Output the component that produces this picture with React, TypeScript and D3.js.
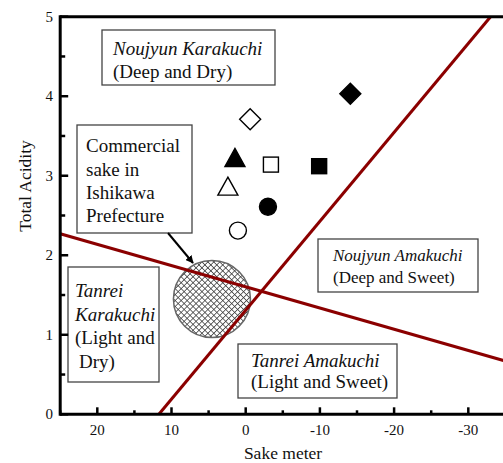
import React from "react";
import * as d3 from "d3";

// Sake meter value (SMV) and total acidity of individual sakes
const pointSmv = [-14.1, -0.6, 1.45, -3.4, -9.9, 2.4, -3.0, 1.05];
const pointAcidity = [4.03, 3.71, 3.23, 3.14, 3.12, 2.87, 2.61, 2.31];
const pointShape = ["diamond", "diamond", "triangle", "square", "square", "triangle", "circle", "circle"];
const pointFilled = [true, false, true, false, true, false, true, false];

// Boundary lines between taste classes: [smv, acidity] end points
const boundarySweetDry = [[11.7, 0], [-33, 5]];
const boundaryDeepLight = [[25, 2.27], [-35, 0.67]];

// Region of commercial sake in Ishikawa Prefecture
const ishikawaCenter = [4.55, 1.45];
const ishikawaRadiusSmv = 5.19;

const xTicks = [20, 10, 0, -10, -20, -30];
const xMinorTicks = [25, 15, 5, -5, -15, -25];
const yTicks = [0, 1, 2, 3, 4, 5];
const yMinorTicks = [0.5, 1.5, 2.5, 3.5, 4.5];

const W = 503;
const H = 463;
const x = d3.scaleLinear().domain([25, -35]).range([60.2, 505.4]);
const y = d3.scaleLinear().domain([0, 5]).range([414.3, 16.7]);

const serif = "Liberation Serif";
const red = "#8b0000";
const textStyle = { fontFamily: serif };

type Line = { text: string; italic?: boolean; dx?: number };
type Box = { x0: number; y0: number; x1: number; y1: number; tx: number; baselines: number[]; size: number; lines: Line[] };

const boxes: Box[] = [
  {
    x0: 102, y0: 30, x1: 275, y1: 85, tx: 113, baselines: [55, 78], size: 19,
    lines: [{ text: "Noujyun Karakuchi", italic: true }, { text: "(Deep and Dry)" }],
  },
  {
    x0: 77, y0: 125, x1: 192, y1: 233, tx: 86, baselines: [152, 175.5, 199, 222], size: 19,
    lines: [{ text: "Commercial" }, { text: "sake in" }, { text: "Ishikawa" }, { text: "Prefecture" }],
  },
  {
    x0: 68, y0: 267, x1: 159, y1: 382, tx: 75, baselines: [297, 320.5, 344, 368], size: 19,
    lines: [
      { text: "Tanrei", italic: true },
      { text: "Karakuchi", italic: true },
      { text: "(Light and" },
      { text: "Dry)", dx: 4 },
    ],
  },
  {
    x0: 318, y0: 239, x1: 478, y1: 292, tx: 333, baselines: [261, 283], size: 17,
    lines: [{ text: "Noujyun Amakuchi", italic: true }, { text: "(Deep and Sweet)" }],
  },
  {
    x0: 238, y0: 344, x1: 397, y1: 398, tx: 251, baselines: [367, 388], size: 19,
    lines: [{ text: "Tanrei Amakuchi", italic: true }, { text: "(Light and Sweet)" }],
  },
];

function marker(shape: string, filled: boolean, cx: number, cy: number, key: number) {
  const fill = filled ? "#000" : "#fff";
  const common = { fill, stroke: "#000", strokeWidth: 1.4 };
  if (shape === "diamond") {
    const r = 10.5;
    return <path key={key} d={`M${cx},${cy - r}L${cx + r},${cy}L${cx},${cy + r}L${cx - r},${cy}Z`} {...common} />;
  }
  if (shape === "triangle") {
    const hw = 10, hh = 9;
    return <path key={key} d={`M${cx},${cy - hh}L${cx + hw},${cy + hh}L${cx - hw},${cy + hh}Z`} {...common} />;
  }
  if (shape === "square") {
    const s = 15;
    return <rect key={key} x={cx - s / 2} y={cy - s / 2} width={s} height={s} {...common} />;
  }
  return <circle key={key} cx={cx} cy={cy} r={8.5} {...common} />;
}

export default function App() {
  const line = d3.line<number[]>().x((d) => x(d[0])).y((d) => y(d[1]));
  const circleR = Math.abs(x(ishikawaCenter[0] + ishikawaRadiusSmv) - x(ishikawaCenter[0]));
  const arrowStart = [168, 233];
  const arrowEnd = [193, 263];

  return (
    <svg
      width={W}
      height={H}
      style={{ position: "absolute", left: 0, top: 0, display: "block", background: "#fff" }}
    >
      <defs>
        <pattern id="hatch" patternUnits="userSpaceOnUse" width={4.2} height={4.2} patternTransform="rotate(45)">
          <rect width={4.2} height={4.2} fill="#fff" />
          <line x1={0} y1={0} x2={4.2} y2={0} stroke="#3a3a3a" strokeWidth={1.5} />
          <line x1={0} y1={0} x2={0} y2={4.2} stroke="#3a3a3a" strokeWidth={1.5} />
        </pattern>
        <marker id="arrowhead" viewBox="0 0 10 10" refX={9} refY={5} markerWidth={4} markerHeight={4} orient="auto">
          <path d="M0,0L10,5L0,10Z" fill="#000" />
        </marker>
      </defs>

      {/* Ishikawa region */}
      <circle
        cx={x(ishikawaCenter[0])}
        cy={y(ishikawaCenter[1])}
        r={circleR}
        fill="url(#hatch)"
        stroke="#666"
        strokeWidth={1.5}
      />

      {/* boundary lines */}
      <path d={line(boundarySweetDry) || ""} stroke={red} strokeWidth={3} fill="none" />
      <path d={line(boundaryDeepLight) || ""} stroke={red} strokeWidth={3} fill="none" />

      {/* sake samples */}
      {pointSmv.map((v, i) => marker(pointShape[i], pointFilled[i], x(v), y(pointAcidity[i]), i))}

      {/* annotation boxes */}
      {boxes.map((b, i) => (
        <g key={i}>
          <rect x={b.x0} y={b.y0} width={b.x1 - b.x0} height={b.y1 - b.y0} fill="#fff" stroke="#444" strokeWidth={1.3} />
          {b.lines.map((l, j) => (
            <text
              key={j}
              x={b.tx + (l.dx || 0)}
              y={b.baselines[j]}
              fontSize={b.size}
              fontStyle={l.italic ? "italic" : "normal"}
              fill="#111"
              style={textStyle}
            >
              {l.text}
            </text>
          ))}
        </g>
      ))}

      {/* arrow to the Ishikawa region */}
      <line
        x1={arrowStart[0]}
        y1={arrowStart[1]}
        x2={arrowEnd[0]}
        y2={arrowEnd[1]}
        stroke="#000"
        strokeWidth={2}
        markerEnd="url(#arrowhead)"
      />

      {/* axes frame */}
      <line x1={x(25)} y1={y(0)} x2={W} y2={y(0)} stroke="#000" strokeWidth={3} />
      <line x1={x(25)} y1={y(5)} x2={W} y2={y(5)} stroke="#000" strokeWidth={3} />
      <line x1={x(25)} y1={y(0) + 1.5} x2={x(25)} y2={y(5) - 1.5} stroke="#000" strokeWidth={3} />

      {/* x ticks */}
      {xTicks.map((t) => (
        <g key={"xt" + t}>
          <line x1={x(t)} y1={y(0)} x2={x(t)} y2={y(0) - 7} stroke="#000" strokeWidth={2.5} />
          <text x={x(t)} y={y(0) + 21} fontSize={15} textAnchor="middle" fill="#111" style={textStyle}>
            {t}
          </text>
        </g>
      ))}
      {xMinorTicks.map((t) => (
        <line key={"xm" + t} x1={x(t)} y1={y(0)} x2={x(t)} y2={y(0) - 4} stroke="#000" strokeWidth={2.5} />
      ))}

      {/* y ticks */}
      {yTicks.map((t) => (
        <g key={"yt" + t}>
          <line x1={x(25)} y1={y(t)} x2={x(25) + 8} y2={y(t)} stroke="#000" strokeWidth={2.5} />
          <text x={53} y={y(t) + 5} fontSize={15} textAnchor="end" fill="#111" style={textStyle}>
            {t}
          </text>
        </g>
      ))}
      {yMinorTicks.map((t) => (
        <line key={"ym" + t} x1={x(25)} y1={y(t)} x2={x(25) + 5} y2={y(t)} stroke="#000" strokeWidth={2.5} />
      ))}

      {/* axis titles */}
      <text x={283} y={459} fontSize={17.5} textAnchor="middle" fill="#111" style={textStyle}>
        Sake meter
      </text>
      <text transform="translate(31,186) rotate(-90)" fontSize={17.5} textAnchor="middle" fill="#111" style={textStyle}>
        Total Acidity
      </text>
    </svg>
  );
}
